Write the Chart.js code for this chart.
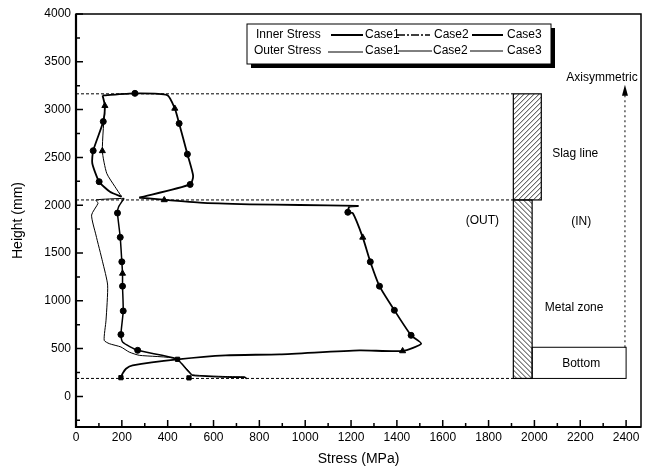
<!DOCTYPE html>
<html>
<head>
<meta charset="utf-8">
<script src="https://cdn.jsdelivr.net/npm/chart.js@4.4.1/dist/chart.umd.min.js"></script>
<style>
  html, body { margin: 0; padding: 0; background: #fff; }
</style>
</head>
<body>
<canvas id="graph" width="646" height="470"></canvas>
<script>
// tick labels
const xTicks = [0, 200, 400, 600, 800, 1000, 1200, 1400, 1600, 1800, 2000, 2200, 2400];
const yTicks = [0, 500, 1000, 1500, 2000, 2500, 3000, 3500, 4000];

// inner stress, slag line loop (stress MPa / height mm)
const innerSlagX = [116, 257, 398, 431, 450, 486, 511, 498, 276];
const innerSlagY = [3148, 3170, 3152, 3012, 2855, 2534, 2307, 2217, 2079];

// inner stress, metal zone
const innerMetalX = [276, 540, 758, 976, 1230, 1193, 1186, 1208, 1251, 1284, 1324, 1389, 1462, 1506, 1425, 1237, 888, 653, 443, 247, 218, 203, 196];
const innerMetalY = [2079, 2026, 2009, 2002, 1992, 1985, 1926, 1915, 1663, 1408, 1153, 901, 639, 552, 475, 482, 440, 430, 388, 325, 290, 238, 196];

// outer stress, slag line (case 1 and case 2)
const outerSlag1X = [199, 148, 101, 71, 75, 119, 126, 116];
const outerSlag1Y = [2089, 2141, 2246, 2439, 2570, 2875, 3038, 3148];
const outerSlag2X = [199, 170, 134, 115, 126];
const outerSlag2Y = [2089, 2194, 2334, 2568, 3040];

// outer stress, metal zone (case 1 and case 3)
const outerMetal1X = [210, 186, 181, 193, 200, 203, 203, 206, 196, 203, 269, 436, 493, 508, 653, 736, 745];
const outerMetal1Y = [2072, 1984, 1918, 1664, 1408, 1286, 1153, 894, 647, 569, 482, 395, 255, 220, 202, 200, 185];
const outerMetal3X = [210, 87, 96, 68, 87, 116, 138, 131, 123, 145, 196, 232, 276, 436, 493, 508, 653, 736];
const outerMetal3Y = [2072, 2055, 2020, 1897, 1688, 1408, 1164, 797, 587, 552, 517, 464, 430, 395, 262, 226, 208, 204];

// symbols
const circleX = [257, 450, 486, 498, 101, 75, 119, 1186, 1284, 1324, 1389, 1462, 181, 193, 200, 203, 206, 196, 269];
const circleY = [3170, 2855, 2534, 2217, 2246, 2570, 2875, 1926, 1408, 1153, 901, 639, 1918, 1664, 1408, 1153, 894, 647, 482];
const triangleX = [431, 126, 115, 203, 1251, 1425, 385];
const triangleY = [3012, 3040, 2568, 1286, 1663, 475, 2055];
const squareX = [196, 493, 443];
const squareY = [196, 194, 388];

// zone limits (height mm) and lining (stress axis units)
const zoneHeights = [188, 2055, 3165];
const liningX = [1908, 1990, 2030, 2400];
const bottomTop = 514;
const arrowTop = 3260;

function pts(xs, ys) {
  return xs.map((x, i) => ({ x: x, y: ys[i] }));
}

function line(label, xs, ys, width) {
  return {
    label: label,
    data: pts(xs, ys),
    showLine: true,
    borderColor: '#000',
    borderWidth: width,
    pointRadius: 0,
    tension: 0.2
  };
}

function marks(label, xs, ys, style, r) {
  return {
    label: label,
    data: pts(xs, ys),
    showLine: false,
    pointStyle: style,
    pointRadius: r,
    backgroundColor: '#000',
    borderColor: '#000',
    borderWidth: 1
  };
}

const FONT = '"Liberation Sans", Arial, sans-serif';

// draws frame, inward ticks, reference lines, lining sketch, labels and legend
const decor = {
  id: 'decor',
  afterDraw(chart) {
    const ctx = chart.ctx;
    const xs = chart.scales.x, ys = chart.scales.y;
    const a = chart.chartArea;
    const px = v => xs.getPixelForValue(v);
    const py = v => ys.getPixelForValue(v);

    ctx.save();
    ctx.strokeStyle = '#000';
    ctx.fillStyle = '#000';

    // dashed height limits
    ctx.lineWidth = 1;
    ctx.setLineDash([3, 2]);
    zoneHeights.forEach(h => {
      ctx.beginPath();
      ctx.moveTo(a.left, py(h));
      ctx.lineTo(px(liningX[0]), py(h));
      ctx.stroke();
    });
    ctx.setLineDash([]);

    // hatched lining
    function hatch(x0, y0, x1, y1, dir) {
      const l = px(x0), r = px(x1), t = py(y1), b = py(y0);
      ctx.save();
      ctx.beginPath();
      ctx.rect(l, t, r - l, b - t);
      ctx.clip();
      ctx.lineWidth = 0.8;
      ctx.beginPath();
      for (let k = -300; k < 300; k += 5) {
        if (dir > 0) {
          ctx.moveTo(l + k, b);
          ctx.lineTo(l + k + (b - t), t);
        } else {
          ctx.moveTo(l + k, t);
          ctx.lineTo(l + k + (b - t), b);
        }
      }
      ctx.stroke();
      ctx.restore();
      ctx.lineWidth = 1.2;
      ctx.strokeRect(l, t, r - l, b - t);
    }
    hatch(liningX[0], zoneHeights[1], liningX[2], zoneHeights[2], 1);
    hatch(liningX[0], zoneHeights[0], liningX[1], zoneHeights[1], -1);

    // bottom block
    ctx.lineWidth = 1;
    ctx.strokeRect(px(liningX[1]), py(bottomTop), px(liningX[3]) - px(liningX[1]), py(zoneHeights[0]) - py(bottomTop));

    // axisymmetric arrow
    const ax = px(liningX[3] - 5);
    ctx.setLineDash([2, 3]);
    ctx.beginPath();
    ctx.moveTo(ax, py(bottomTop));
    ctx.lineTo(ax, py(arrowTop) + 10);
    ctx.stroke();
    ctx.setLineDash([]);
    ctx.beginPath();
    ctx.moveTo(ax, py(arrowTop));
    ctx.lineTo(ax - 3, py(arrowTop) + 11);
    ctx.lineTo(ax + 3, py(arrowTop) + 11);
    ctx.closePath();
    ctx.fill();

    // zone labels
    ctx.font = '12px ' + FONT;
    ctx.textAlign = 'center';
    ctx.textBaseline = 'middle';
    ctx.fillText('Axisymmetric', px(2295), py(3333));
    ctx.fillText('Slag line', px(2178), py(2537));
    ctx.fillText('(IN)', px(2204), py(1824));
    ctx.fillText('(OUT)', px(1773), py(1834));
    ctx.fillText('Metal zone', px(2173), py(933));
    ctx.fillText('Bottom', px(2204), py(346));

    // frame
    ctx.lineWidth = 1.5;
    ctx.strokeRect(a.left, a.top, a.right - a.left, a.bottom - a.top);
    ctx.lineWidth = 2.2;
    ctx.beginPath();
    ctx.moveTo(a.left, a.top);
    ctx.lineTo(a.left, a.bottom);
    ctx.lineTo(a.right, a.bottom);
    ctx.stroke();

    // inward ticks
    ctx.lineWidth = 1.5;
    ctx.beginPath();
    for (let v = 0; v <= 2400; v += 100) {
      const len = v % 200 === 0 ? 7 : 4;
      ctx.moveTo(px(v), a.bottom);
      ctx.lineTo(px(v), a.bottom - len);
    }
    for (let v = -250; v <= 4000; v += 250) {
      const len = v % 500 === 0 ? 7 : 4;
      ctx.moveTo(a.left, py(v));
      ctx.lineTo(a.left + len, py(v));
    }
    ctx.stroke();

    // legend box with shadow
    const bx = 247, by = 24, bw = 304, bh = 40;
    ctx.fillRect(bx + 4, by + 4, bw, bh);
    ctx.fillStyle = '#fff';
    ctx.fillRect(bx, by, bw, bh);
    ctx.fillStyle = '#000';
    ctx.lineWidth = 1;
    ctx.strokeRect(bx, by, bw, bh);

    ctx.textAlign = 'left';
    ctx.font = '12px ' + FONT;
    const r1 = 35, r2 = 51;
    ctx.fillText('Inner Stress', 256, r1);
    ctx.fillText('Case1', 365, r1);
    ctx.fillText('Case2', 434, r1);
    ctx.fillText('Case3', 507, r1);
    ctx.fillText('Outer Stress', 254, r2);
    ctx.fillText('Case1', 365, r2);
    ctx.fillText('Case2', 433, r2);
    ctx.fillText('Case3', 507, r2);

    function seg(x0, x1, y, w, dash) {
      ctx.lineWidth = w;
      ctx.setLineDash(dash || []);
      ctx.beginPath();
      ctx.moveTo(x0, y);
      ctx.lineTo(x1, y);
      ctx.stroke();
      ctx.setLineDash([]);
    }
    seg(331, 363, r1, 2);
    seg(397, 430, r1, 1.5, [8, 2, 2, 2]);
    seg(472, 503, r1, 2);
    seg(328, 363, r2 + 1, 1);
    seg(398, 432, r2, 1);
    seg(470, 503, r2, 1);

    ctx.restore();
  }
};

new Chart(document.getElementById('graph'), {
  type: 'scatter',
  data: {
    datasets: [
      line('Inner Stress slag', innerSlagX, innerSlagY, 1.8),
      line('Inner Stress metal', innerMetalX, innerMetalY, 1.8),
      line('Outer Stress Case1 slag', outerSlag1X, outerSlag1Y, 1.8),
      line('Outer Stress Case2 slag', outerSlag2X, outerSlag2Y, 1),
      line('Outer Stress Case1 metal', outerMetal1X, outerMetal1Y, 1.5),
      line('Outer Stress Case3 metal', outerMetal3X, outerMetal3Y, 1),
      marks('circles', circleX, circleY, 'circle', 3),
      marks('triangles', triangleX, triangleY, 'triangle', 3.5),
      marks('squares', squareX, squareY, 'rect', 3)
    ]
  },
  options: {
    responsive: false,
    animation: false,
    layout: { padding: { top: 14, right: 4, left: 0, bottom: 0 } },
    plugins: { legend: { display: false }, tooltip: { enabled: false } },
    scales: {
      x: {
        type: 'linear',
        min: 0,
        max: 2465,
        grid: { display: false, drawTicks: false },
        border: { display: false },
        afterBuildTicks: s => { s.ticks = xTicks.map(v => ({ value: v })); },
        afterFit: s => { s.height = 43; },
        ticks: { color: '#000', padding: 3, maxRotation: 0, autoSkip: false, callback: v => String(v), font: { family: FONT, size: 12 } },
        title: { display: true, text: 'Stress (MPa)', color: '#000', padding: { top: 0, bottom: 2 }, font: { family: FONT, size: 14 } }
      },
      y: {
        type: 'linear',
        min: -320,
        max: 4000,
        grid: { display: false, drawTicks: false },
        border: { display: false },
        afterBuildTicks: s => { s.ticks = yTicks.map(v => ({ value: v })); },
        afterFit: s => { s.width = 76; },
        ticks: { color: '#000', padding: 5, autoSkip: false, callback: v => String(v), font: { family: FONT, size: 12 } },
        title: { display: true, text: 'Height (mm)', color: '#000', padding: { top: 10, bottom: 0 }, font: { family: FONT, size: 14 } }
      }
    }
  },
  plugins: [decor]
});
</script>
</body>
</html>
